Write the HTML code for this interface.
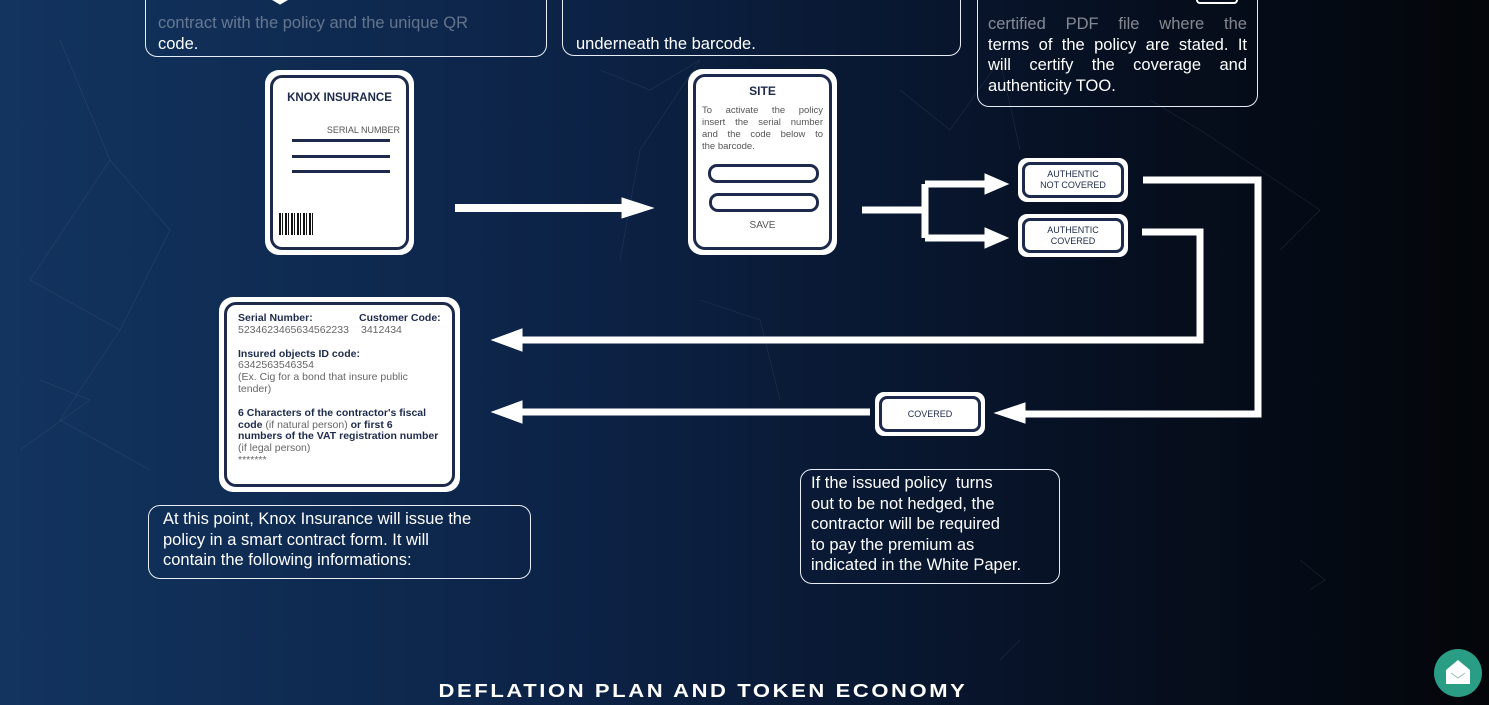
<!DOCTYPE html>
<html><head><style>
body{margin:0;width:1489px;height:705px;overflow:hidden;position:relative;font-family:"Liberation Sans",sans-serif;
background:linear-gradient(90deg,#12345f 0%,#0c2245 40%,#071226 70%,#030509 100%);}
.a{position:absolute}
.tb{position:absolute;border:1.5px solid #e8edf5;border-radius:12px;color:#fff;font-size:16.5px;line-height:20.5px;box-sizing:border-box;padding:0 10px;overflow:hidden;white-space:nowrap}
.card{position:absolute;background:#fff;border-radius:14px;box-sizing:border-box;padding:5px}
.card>div{border:3px solid #1d2a4b;border-radius:12px;height:100%;box-sizing:border-box;position:relative;color:#1d2a4b}
.sm{position:absolute;background:#fff;border-radius:9px;padding:4px;box-sizing:border-box}
.sm>div{border:3px solid #1d2a4b;border-radius:8px;height:100%;box-sizing:border-box;display:flex;align-items:center;justify-content:center;text-align:center;font-size:9px;line-height:11px;color:#1d2a4b}
.j{text-align:justify;text-align-last:justify}
</style></head><body>
<svg class="a" style="left:0;top:0" width="1489" height="705">
<g stroke="#8090a8" stroke-width="0.6" opacity="0.2" fill="none">
<path d="M60 40L110 160L30 280L120 330L60 420L150 470M110 160L170 230L120 330M600 70L650 90L700 60L640 150L620 260M900 90L950 130L1000 60L1020 150M1150 100L1200 130L1320 210L1280 250M1300 560L1325 580L1310 590M1000 660L1020 640M40 380L90 400L20 450M700 300L760 320L780 400"/>
</g>
<g fill="#fff" stroke="#fff">
<path d="M455 208H630" stroke-width="8"/><path d="M622 198L653 208L622 218Z"/>
<path d="M862 210H925M925 184V238M925 184H990M925 238H990" stroke-width="7" fill="none"/>
<path d="M985 174L1008 184L985 194Z"/><path d="M985 228L1008 238L985 248Z"/>
<path d="M1143 180H1258V414H1020" stroke-width="7" fill="none"/><path d="M1025 403L995 413L1025 423Z"/>
<path d="M1142 232H1200V340H515" stroke-width="7" fill="none"/><path d="M522 329L492 340L522 351Z"/>
<path d="M870 412H515" stroke-width="7"/><path d="M522 401L492 412L522 423Z"/>
<rect x="1197" y="-10" width="40" height="13" rx="3" fill="none" stroke-width="2"/>
<path d="M273 0L280 4L287 0Z"/>
</g>
</svg>
<div class="tb" style="left:145px;top:-20px;width:402px;height:77px;padding-top:32px;padding-left:12px"><span style="opacity:.35">contract with the policy and the unique QR</span><br>code.</div>
<div class="tb" style="left:562px;top:-20px;width:399px;height:76px;padding-top:32px;padding-left:13px"><span style="opacity:.35">&nbsp;</span><br>underneath the barcode.</div>
<div class="tb" style="left:977px;top:-20px;width:281px;height:127px;padding-top:33px;white-space:normal">
<div class="j" style="opacity:.5">certified PDF file where the</div><div class="j">terms of the policy are stated. It</div><div class="j">will certify the coverage and</div><div>authenticity TOO.</div></div>
<div class="tb" style="left:148px;top:505px;width:383px;height:74px;padding:3px 14px">At this point, Knox Insurance will issue the<br>policy in a smart contract form. It will<br>contain the following informations:</div>
<div class="tb" style="left:800px;top:469px;width:260px;height:115px;padding:3px 10px">If the issued policy &nbsp;turns<br>out to be not hedged, the<br>contractor will be required<br>to pay the premium as<br>indicated in the White Paper.</div>

<div class="card" style="left:265px;top:70px;width:149px;height:185px"><div>
<div class="a" style="left:0;right:0;top:14px;text-align:center;font-weight:bold;font-size:11.5px">KNOX INSURANCE</div>
<div class="a" style="right:6px;top:47px;font-size:9px;color:#555">SERIAL NUMBER</div>
<div class="a" style="left:19px;top:61px;width:98px;height:3px;background:#1d2a4b"></div>
<div class="a" style="left:19px;top:77px;width:98px;height:3px;background:#1d2a4b"></div>
<div class="a" style="left:19px;top:92px;width:98px;height:3px;background:#1d2a4b"></div>
<div class="a" style="left:6px;top:135px;width:36px;height:22px;background:repeating-linear-gradient(90deg,#111 0 2px,#fff 2px 3px,#111 3px 4px,#fff 4px 6px)"></div>
</div></div>

<div class="card" style="left:688px;top:69px;width:149px;height:186px"><div>
<div class="a" style="left:0;right:0;top:7px;text-align:center;font-weight:bold;font-size:12px">SITE</div>
<div class="a" style="left:6px;right:6px;top:28px;font-size:9.5px;line-height:12px;color:#555"><div class="j">To activate the policy</div><div class="j">insert the serial number</div><div class="j">and the code below to</div><div>the barcode.</div></div>
<div class="a" style="left:12px;right:10px;top:87px;height:13px;border:3px solid #1d2a4b;border-radius:9px"></div>
<div class="a" style="left:13px;right:10px;top:116px;height:13px;border:3px solid #1d2a4b;border-radius:9px"></div>
<div class="a" style="left:0;right:0;top:143px;text-align:center;font-size:10px;color:#555">SAVE</div>
</div></div>

<div class="sm" style="left:1018px;top:158px;width:110px;height:44px"><div>AUTHENTIC<br>NOT COVERED</div></div>
<div class="sm" style="left:1018px;top:214px;width:110px;height:43px"><div>AUTHENTIC<br>COVERED</div></div>
<div class="sm" style="left:875px;top:392px;width:110px;height:44px"><div>COVERED</div></div>

<div class="card" style="left:219px;top:297px;width:241px;height:195px"><div style="padding:8px 0 0 11px;font-size:10.5px;line-height:11.8px;color:#666;white-space:nowrap">
<div style="position:relative"><b style="color:#1d2a4b">Serial Number:</b><b style="color:#1d2a4b;position:absolute;left:121px">Customer Code:</b><br>5234623465634562233<span style="position:absolute;left:123px">3412434</span></div>
<div style="margin-top:12px"><b style="color:#1d2a4b">Insured objects ID code:</b><br>6342563546354<br>(Ex. Cig for a bond that insure public<br>tender)</div>
<div style="margin-top:12px"><b style="color:#1d2a4b">6 Characters of the contractor's fiscal<br>code</b> (if natural person) <b style="color:#1d2a4b">or first 6<br>numbers of the VAT registration number</b><br>(if legal person)<br>*******</div>
</div></div>

<div class="a" style="left:383px;top:678px;width:640px;text-align:center;color:#fff;font-weight:bold;font-size:22px;letter-spacing:2.6px;white-space:nowrap;transform:scaleY(0.85)">DEFLATION PLAN AND TOKEN ECONOMY</div>
<div class="a" style="left:1434px;top:649px;width:48px;height:48px;border-radius:50%;background:#2a9d85"></div>
<svg class="a" style="left:1444px;top:658px" width="28" height="28"><path d="M2 12L14 2L26 12V26H2Z" fill="#fff"/><path d="M7 15L14 20L21 15" stroke="#9bb" fill="none" stroke-width="1"/></svg>
</body></html>
